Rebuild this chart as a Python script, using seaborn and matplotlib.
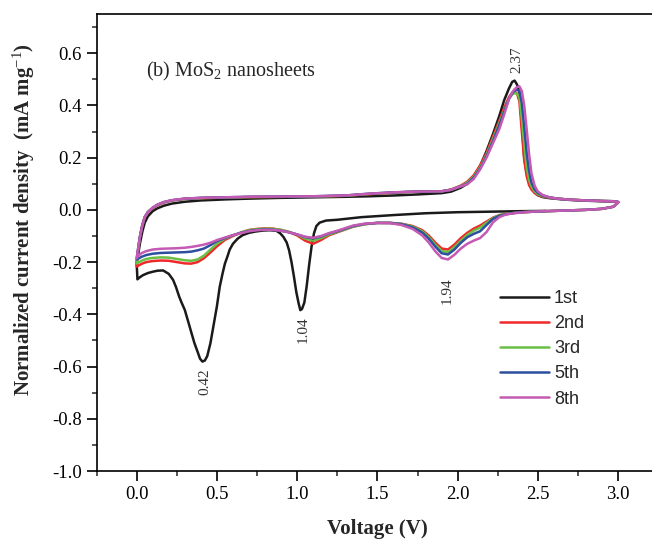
import numpy as np
import pandas as pd
import matplotlib
matplotlib.use("Agg")
import matplotlib.pyplot as plt
import seaborn as sns
from matplotlib.ticker import MultipleLocator, FormatStrFormatter

# ---------------------------------------------------------
# DATA
# ---------------------------------------------------------
CYCLES = ["1st", "2nd", "3rd", "5th", "8th"]
COLORS = ["#1a1a1a", "#f0282a", "#6abf45", "#2d4fa0", "#c45ab3"]

# cathodic sweep of the 1st cycle (starts from OCV)
BLACK_CATH_V = [2.55, 2.4, 2.2, 2.0, 1.8, 1.6, 1.4, 1.25, 1.18, 1.14, 1.12, 1.105,
                1.09, 1.075, 1.06, 1.045, 1.03, 1.02, 1.01, 0.995, 0.98, 0.965,
                0.95, 0.935, 0.915, 0.895, 0.87, 0.83, 0.79, 0.74, 0.7, 0.66, 0.63,
                0.6, 0.58, 0.565, 0.55, 0.535, 0.518, 0.5, 0.48, 0.46, 0.44, 0.425,
                0.41, 0.395, 0.383, 0.36, 0.342, 0.32, 0.3, 0.28, 0.265, 0.245,
                0.227, 0.2, 0.165, 0.13, 0.1, 0.07, 0.04, 0.02, 0.005]
BLACK_CATH_I = [-0.004, -0.005, -0.007, -0.009, -0.013, -0.02, -0.028, -0.038,
                -0.041, -0.049, -0.062, -0.09, -0.14, -0.21, -0.29, -0.355, -0.38,
                -0.384, -0.36, -0.315, -0.255, -0.2, -0.155, -0.125, -0.104, -0.09,
                -0.08, -0.078, -0.079, -0.083, -0.088, -0.097, -0.11, -0.13, -0.152,
                -0.18, -0.206, -0.245, -0.294, -0.37, -0.44, -0.51, -0.56, -0.577,
                -0.581, -0.57, -0.549, -0.51, -0.472, -0.425, -0.383, -0.355,
                -0.332, -0.295, -0.268, -0.245, -0.232, -0.233, -0.237, -0.242,
                -0.25, -0.258, -0.266]

# cathodic sweep of later cycles (3.0 V -> 0.0 V)
CATH_V = [3.0, 2.97, 2.9, 2.8, 2.7, 2.6, 2.5, 2.4, 2.35, 2.3, 2.26, 2.22, 2.18,
          2.14, 2.1, 2.06, 2.02, 1.98, 1.94, 1.9, 1.86, 1.82, 1.78, 1.72, 1.65,
          1.58, 1.5, 1.42, 1.35, 1.3, 1.25, 1.2, 1.15, 1.1, 1.05, 1.0, 0.95, 0.9,
          0.85, 0.8, 0.75, 0.7, 0.65, 0.6, 0.55, 0.5, 0.46, 0.42, 0.38, 0.34, 0.3,
          0.25, 0.2, 0.15, 0.1, 0.06, 0.03, 0.01, 0.0]
RED_CATH = [0.028, 0.012, 0.004, 0.0, -0.002, -0.004, -0.006, -0.009, -0.012,
            -0.016, -0.02, -0.03, -0.045, -0.06, -0.072, -0.088, -0.108, -0.133,
            -0.152, -0.148, -0.125, -0.098, -0.078, -0.062, -0.053, -0.05, -0.05,
            -0.055, -0.064, -0.075, -0.086, -0.097, -0.115, -0.13, -0.118, -0.098,
            -0.085, -0.077, -0.072, -0.071, -0.073, -0.077, -0.087, -0.1, -0.115,
            -0.14, -0.163, -0.185, -0.2, -0.206, -0.205, -0.2, -0.195, -0.194,
            -0.196, -0.2, -0.207, -0.214, -0.217]
GREEN_CATH = [0.028, 0.012, 0.004, 0.0, -0.002, -0.004, -0.006, -0.009, -0.012,
              -0.016, -0.021, -0.032, -0.05, -0.068, -0.08, -0.096, -0.118, -0.143,
              -0.162, -0.157, -0.133, -0.104, -0.082, -0.064, -0.054, -0.05, -0.05,
              -0.055, -0.064, -0.074, -0.084, -0.094, -0.108, -0.118, -0.11, -0.095,
              -0.084, -0.077, -0.073, -0.072, -0.074, -0.078, -0.087, -0.098, -0.11,
              -0.13, -0.152, -0.175, -0.19, -0.195, -0.193, -0.188, -0.183, -0.182,
              -0.184, -0.188, -0.195, -0.202, -0.205]
BLUE_CATH = [0.028, 0.012, 0.004, 0.0, -0.002, -0.004, -0.006, -0.009, -0.012,
             -0.017, -0.023, -0.035, -0.058, -0.082, -0.092, -0.105, -0.126, -0.152,
             -0.171, -0.166, -0.14, -0.11, -0.087, -0.067, -0.055, -0.05, -0.05,
             -0.054, -0.062, -0.072, -0.082, -0.09, -0.102, -0.109, -0.104, -0.094,
             -0.086, -0.08, -0.076, -0.075, -0.077, -0.081, -0.088, -0.097, -0.108,
             -0.12, -0.135, -0.148, -0.155, -0.16, -0.162, -0.163, -0.164, -0.165,
             -0.168, -0.173, -0.18, -0.187, -0.19]
MAGENTA_CATH = [0.028, 0.012, 0.004, 0.0, -0.002, -0.004, -0.006, -0.01, -0.013,
                -0.018, -0.028, -0.048, -0.085, -0.108, -0.118, -0.13, -0.148, -0.172,
                -0.19, -0.184, -0.158, -0.125, -0.098, -0.073, -0.058, -0.051, -0.05,
                -0.053, -0.06, -0.07, -0.08, -0.089, -0.1, -0.107, -0.103, -0.094,
                -0.086, -0.08, -0.077, -0.076, -0.078, -0.082, -0.089, -0.097, -0.106,
                -0.116, -0.126, -0.133, -0.138, -0.142, -0.145, -0.147, -0.148,
                -0.149, -0.152, -0.158, -0.166, -0.176, -0.185]

# anodic sweep of all cycles (0.0 V -> 3.0 V)
ANOD_V = [0.0, 0.01, 0.02, 0.035, 0.05, 0.07, 0.1, 0.13, 0.17, 0.22, 0.3, 0.4,
          0.55, 0.7, 0.9, 1.1, 1.3, 1.45, 1.6, 1.75, 1.9, 1.96, 2.02, 2.06, 2.1,
          2.14, 2.18, 2.22, 2.26, 2.29, 2.32, 2.34, 2.355, 2.37, 2.385, 2.4, 2.415,
          2.43, 2.445, 2.46, 2.48, 2.5, 2.53, 2.57, 2.62, 2.7, 2.8, 2.9, 2.97, 3.0]
BLACK_ANOD = [-0.2, -0.17, -0.13, -0.085, -0.05, -0.025, -0.005, 0.006, 0.016,
              0.024, 0.031, 0.036, 0.04, 0.043, 0.046, 0.048, 0.05, 0.052, 0.055,
              0.059, 0.064, 0.07, 0.085, 0.1, 0.127, 0.168, 0.225, 0.29, 0.36, 0.42,
              0.465, 0.49, 0.495, 0.48, 0.45, 0.33, 0.2, 0.14, 0.108, 0.085, 0.066,
              0.056, 0.049, 0.045, 0.042, 0.038, 0.035, 0.033, 0.032, 0.03]
RED_ANOD = [-0.217, -0.15, -0.105, -0.06, -0.03, -0.01, 0.006, 0.018, 0.028,
            0.036, 0.042, 0.045, 0.047, 0.049, 0.05, 0.051, 0.054, 0.06, 0.066,
            0.07, 0.071, 0.078, 0.093, 0.108, 0.132, 0.17, 0.218, 0.28, 0.342, 0.39,
            0.432, 0.448, 0.452, 0.445, 0.415, 0.3, 0.19, 0.13, 0.095, 0.078, 0.064,
            0.057, 0.051, 0.047, 0.043, 0.039, 0.036, 0.034, 0.033, 0.03]
GREEN_ANOD = [-0.205, -0.148, -0.105, -0.06, -0.029, -0.009, 0.007, 0.019, 0.029,
              0.036, 0.042, 0.045, 0.047, 0.049, 0.05, 0.051, 0.054, 0.061, 0.066,
              0.07, 0.071, 0.077, 0.091, 0.104, 0.127, 0.163, 0.21, 0.27, 0.333,
              0.38, 0.425, 0.442, 0.447, 0.445, 0.43, 0.35, 0.25, 0.165, 0.115,
              0.09, 0.07, 0.06, 0.053, 0.048, 0.043, 0.039, 0.036, 0.034, 0.033, 0.03]
BLUE_ANOD = [-0.19, -0.146, -0.105, -0.06, -0.028, -0.008, 0.008, 0.02, 0.03,
             0.037, 0.043, 0.046, 0.048, 0.05, 0.051, 0.052, 0.055, 0.062, 0.067,
             0.07, 0.071, 0.077, 0.09, 0.1, 0.123, 0.158, 0.205, 0.262, 0.325, 0.375,
             0.425, 0.447, 0.456, 0.46, 0.455, 0.41, 0.32, 0.22, 0.15, 0.105, 0.078,
             0.065, 0.055, 0.048, 0.043, 0.039, 0.036, 0.034, 0.033, 0.03]
MAGENTA_ANOD = [-0.185, -0.145, -0.105, -0.06, -0.028, -0.008, 0.008, 0.02, 0.03,
                0.037, 0.043, 0.046, 0.048, 0.05, 0.051, 0.052, 0.055, 0.062, 0.067,
                0.07, 0.071, 0.077, 0.09, 0.098, 0.118, 0.155, 0.2, 0.255, 0.31,
                0.365, 0.425, 0.45, 0.462, 0.47, 0.473, 0.455, 0.4, 0.31, 0.215,
                0.14, 0.092, 0.07, 0.057, 0.048, 0.043, 0.039, 0.036, 0.034, 0.033,
                0.03]

PEAK_LABELS = ["0.42", "1.04", "1.94", "2.37"]
PEAK_LABEL_X = [0.425, 1.039, 1.932, 2.372]
PEAK_LABEL_Y = [-0.659, -0.46, -0.309, 0.575]


def build_frame():
    """One long table: voltage, current, cycle, in sweep order."""
    cath = {"1st": (BLACK_CATH_V, BLACK_CATH_I),
            "2nd": (CATH_V, RED_CATH),
            "3rd": (CATH_V, GREEN_CATH),
            "5th": (CATH_V, BLUE_CATH),
            "8th": (CATH_V, MAGENTA_CATH)}
    anod = {"1st": BLACK_ANOD, "2nd": RED_ANOD, "3rd": GREEN_ANOD,
            "5th": BLUE_ANOD, "8th": MAGENTA_ANOD}
    rows = []
    for cyc in CYCLES:
        v = list(cath[cyc][0]) + list(ANOD_V)
        i = list(cath[cyc][1]) + list(anod[cyc])
        rows.append(pd.DataFrame({"voltage": v, "current": i, "cycle": cyc,
                                  "step": np.arange(len(v))}))
    return pd.concat(rows, ignore_index=True)


df = build_frame()

sns.set_theme(style="ticks")
plt.rcParams["font.family"] = ["Liberation Serif", "DejaVu Serif"]
plt.rcParams["mathtext.fontset"] = "custom"
plt.rcParams["mathtext.rm"] = "Liberation Serif"
plt.rcParams["mathtext.it"] = "Liberation Serif:italic"
plt.rcParams["mathtext.bf"] = "Liberation Serif:bold"
plt.rcParams["axes.unicode_minus"] = False

fig = plt.figure(figsize=(6.52, 5.40), dpi=100)
ax = fig.add_axes([96.5 / 652, 69 / 540, 561.75 / 652, 457 / 540])

sns.lineplot(data=df, x="voltage", y="current", hue="cycle",
             hue_order=CYCLES, palette=dict(zip(CYCLES, COLORS)),
             sort=False, estimator=None, linewidth=1.8, ax=ax)

ax.set_xlim(-0.25, 3.25)
ax.set_ylim(-1.0, 0.75)
ax.xaxis.set_major_locator(MultipleLocator(0.5))
ax.xaxis.set_minor_locator(MultipleLocator(0.25))
ax.yaxis.set_major_locator(MultipleLocator(0.2))
ax.yaxis.set_minor_locator(MultipleLocator(0.1))
ax.xaxis.set_major_formatter(FormatStrFormatter("%.1f"))
ax.yaxis.set_major_formatter(FormatStrFormatter("%.1f"))
ax.set_yticks([t / 10 for t in range(-10, 7, 2)])
ax.tick_params(which="major", direction="out", length=7, width=1.2,
               labelsize=13.5, colors="black", pad=3.5)
ax.tick_params(which="minor", direction="out", length=3.6, width=1.1)
for s in ["left", "bottom", "top", "right"]:
    ax.spines[s].set_linewidth(1.2)
    ax.spines[s].set_color("black")

ax.set_xlabel("Voltage (V)", fontsize=15, fontweight="bold", va="baseline")
ax.xaxis.set_label_coords(0.5, (471 - 534) / 457)
ax.set_ylabel("Normalized current density  (mA mg$^{-1}$)", fontsize=15,
              fontweight="bold", va="center")
ax.yaxis.set_label_coords(-0.129, 0.551)

ax.text(0.06, 0.53, "(b) MoS$_2$ nanosheets", fontsize=14.5, va="center")
for lab, px, py in zip(PEAK_LABELS, PEAK_LABEL_X, PEAK_LABEL_Y):
    ax.text(px, py, lab, rotation=90, ha="center", va="center",
            fontsize=11, color="#333333")

ax.legend(frameon=False, loc="upper left", bbox_to_anchor=(0.718, 0.396),
          borderaxespad=0, borderpad=0, handlelength=2.7, handletextpad=0.3,
          labelspacing=0.45, prop={"family": "Liberation Sans", "size": 13})

fig.savefig("out.png", dpi=100)
plt.close(fig)
